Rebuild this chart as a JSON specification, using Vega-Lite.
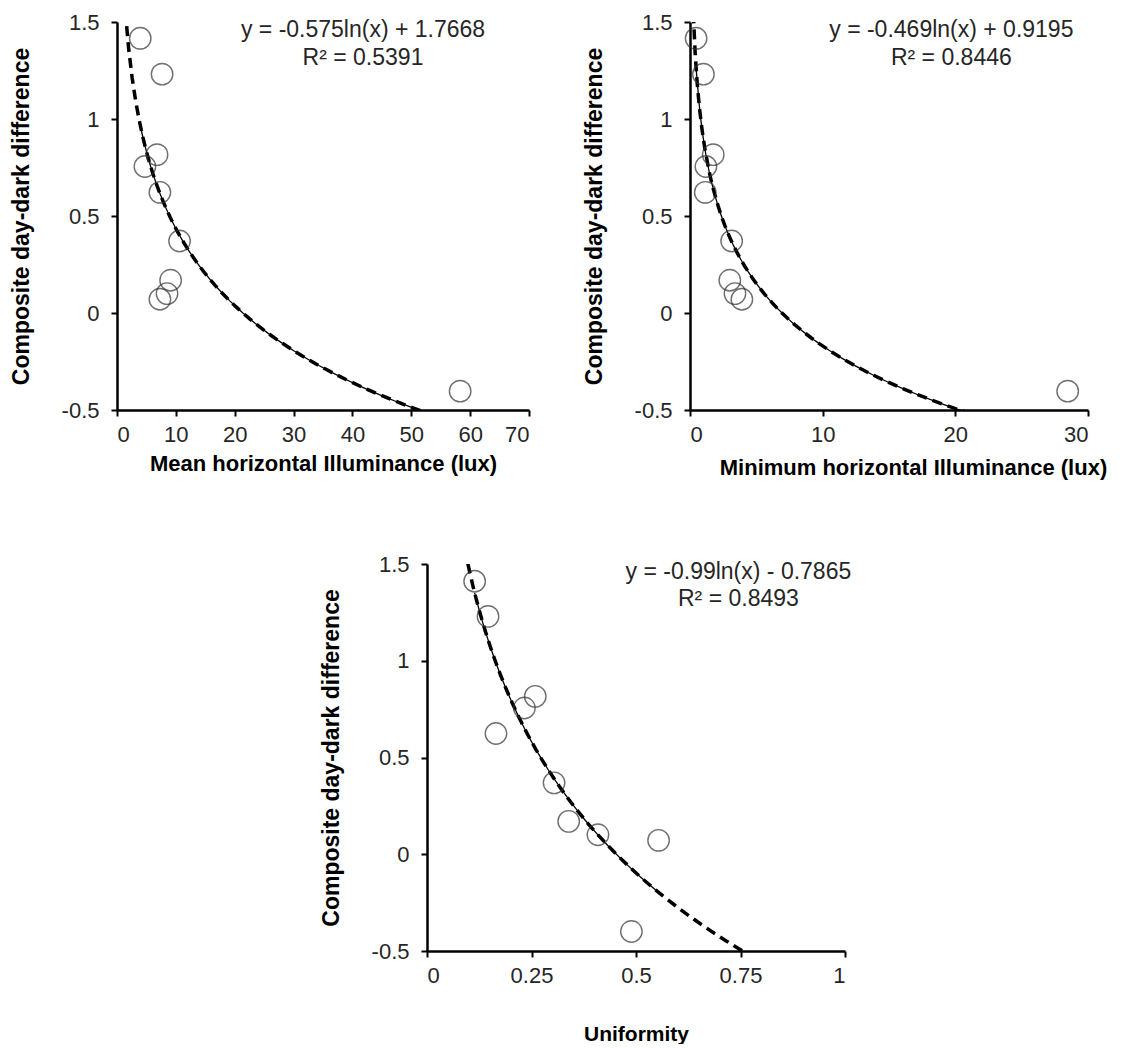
{
  "$schema": "https://vega.github.io/schema/vega-lite/v6.json",
  "background": "white",
  "padding": {"left": 10, "top": 11, "right": 0, "bottom": 0},
  "config": {
    "font": "Liberation Sans",
    "view": {"stroke": null},
    "axis": {
      "grid": false,
      "domainColor": "black",
      "domainWidth": 2.5,
      "tickColor": "black",
      "tickWidth": 2,
      "tickSize": 6,
      "labelFont": "Liberation Sans",
      "labelFontSize": 22,
      "labelColor": "#262626",
      "titleFont": "Liberation Sans",
      "titleFontSize": 22,
      "titleFontWeight": "bold",
      "titleColor": "black"
    },
    "axisY": {"titlePadding": 28, "labelPadding": 12, "titleFontSize": 23},
    "axisX": {"titlePadding": 8, "labelPadding": 8},
    "concat": {"spacing": 53}
  },
  "datasets": {
    "p1": [
      {"x": 3.95, "y": 1.416}, {"x": 7.66, "y": 1.231}, {"x": 6.8, "y": 0.816},
      {"x": 4.74, "y": 0.755}, {"x": 7.29, "y": 0.622}, {"x": 10.63, "y": 0.371},
      {"x": 9.11, "y": 0.169}, {"x": 7.29, "y": 0.071}, {"x": 8.5, "y": 0.1},
      {"x": 58.3, "y": -0.403}
    ],
    "p2": [
      {"x": 0.46, "y": 1.416}, {"x": 1.01, "y": 1.231}, {"x": 1.75, "y": 0.816},
      {"x": 1.2, "y": 0.755}, {"x": 1.15, "y": 0.622}, {"x": 3.14, "y": 0.371},
      {"x": 3.0, "y": 0.169}, {"x": 3.39, "y": 0.1}, {"x": 3.91, "y": 0.071},
      {"x": 28.47, "y": -0.403}
    ],
    "p3": [
      {"x": 0.114, "y": 1.411}, {"x": 0.146, "y": 1.229}, {"x": 0.259, "y": 0.816},
      {"x": 0.233, "y": 0.756}, {"x": 0.165, "y": 0.624}, {"x": 0.304, "y": 0.369},
      {"x": 0.339, "y": 0.17}, {"x": 0.409, "y": 0.101}, {"x": 0.554, "y": 0.072},
      {"x": 0.489, "y": -0.399}
    ],
    "eq": [
      {"panel": 1, "x": 41.8, "y": 1.459, "label": "y = -0.575ln(x) + 1.7668"},
      {"panel": 1, "x": 41.8, "y": 1.317, "label": "R² = 0.5391"},
      {"panel": 2, "x": 19.7, "y": 1.459, "label": "y = -0.469ln(x) + 0.9195"},
      {"panel": 2, "x": 19.7, "y": 1.317, "label": "R² = 0.8446"},
      {"panel": 3, "x": 0.745, "y": 1.459, "label": "y = -0.99ln(x) - 0.7865"},
      {"panel": 3, "x": 0.745, "y": 1.317, "label": "R² = 0.8493"}
    ]
  },
  "vconcat": [
    {
      "hconcat": [
        {
          "width": 412, "height": 388,
          "data": {"name": "p1"},
          "encoding": {
            "x": {"field": "x", "type": "quantitative", "scale": {"domain": [0, 70], "nice": false, "zero": false},
                  "axis": {"values": [0, 10, 20, 30, 40, 50, 60, 70], "title": "Mean horizontal Illuminance (lux)",
                           "labelExpr": "datum.value < 0 ? '-' + format(-datum.value, '') : format(datum.value, '')"}},
            "y": {"field": "y", "type": "quantitative", "scale": {"domain": [-0.5, 1.5], "nice": false, "zero": false},
                  "axis": {"values": [-0.5, 0, 0.5, 1, 1.5], "title": "Composite day-dark difference",
                           "labelExpr": "datum.value < 0 ? '-' + format(-datum.value, '') : format(datum.value, '')"}}
          },
          "layer": [
            {"transform": [{"regression": "y", "on": "x", "method": "log", "extent": [1.4, 60]}],
             "mark": {"type": "line", "color": "black", "strokeWidth": 3.5, "strokeDash": [10, 6], "clip": true}},
            {"transform": [{"regression": "y", "on": "x", "method": "log"}],
             "mark": {"type": "line", "color": "black", "strokeWidth": 1.3, "clip": true}},
            {"mark": {"type": "point", "shape": "circle", "filled": false, "stroke": "#333333", "strokeWidth": 1.4, "size": 460}},
            {"data": {"name": "eq"}, "transform": [{"filter": "datum.panel == 1"}],
             "mark": {"type": "text", "align": "center", "baseline": "middle", "fontSize": 23, "color": "#262626"},
             "encoding": {"text": {"field": "label"}}}
          ]
        },
        {
          "width": 398, "height": 388,
          "data": {"name": "p2"},
          "encoding": {
            "x": {"field": "x", "type": "quantitative", "scale": {"domain": [0, 30], "nice": false, "zero": false},
                  "axis": {"values": [0, 10, 20, 30], "title": "Minimum horizontal Illuminance (lux)", "titlePadding": 12, "titleX": 223,
                           "labelExpr": "datum.value < 0 ? '-' + format(-datum.value, '') : format(datum.value, '')"}},
            "y": {"field": "y", "type": "quantitative", "scale": {"domain": [-0.5, 1.5], "nice": false, "zero": false},
                  "axis": {"values": [-0.5, 0, 0.5, 1, 1.5], "title": "Composite day-dark difference",
                           "labelExpr": "datum.value < 0 ? '-' + format(-datum.value, '') : format(datum.value, '')"}}
          },
          "layer": [
            {"transform": [{"regression": "y", "on": "x", "method": "log", "extent": [0.25, 30]}],
             "mark": {"type": "line", "color": "black", "strokeWidth": 3.5, "strokeDash": [10, 6], "clip": true}},
            {"transform": [{"regression": "y", "on": "x", "method": "log"}],
             "mark": {"type": "line", "color": "black", "strokeWidth": 1.3, "clip": true}},
            {"mark": {"type": "point", "shape": "circle", "filled": false, "stroke": "#333333", "strokeWidth": 1.4, "size": 460}},
            {"data": {"name": "eq"}, "transform": [{"filter": "datum.panel == 2"}],
             "mark": {"type": "text", "align": "center", "baseline": "middle", "fontSize": 23, "color": "#262626"},
             "encoding": {"text": {"field": "label"}}}
          ]
        }
      ]
    },
    {
      "hconcat": [
        {
          "width": 203, "height": 5,
          "data": {"values": [{"a": 1}]},
          "mark": {"type": "point", "opacity": 0}
        },
        {
          "width": 418, "height": 387,
          "data": {"name": "p3"},
          "encoding": {
            "x": {"field": "x", "type": "quantitative", "scale": {"domain": [0, 1], "nice": false, "zero": false},
                  "axis": {"values": [0, 0.25, 0.5, 0.75, 1], "title": "Uniformity", "titlePadding": 37, "titleFontSize": 21,
                           "labelExpr": "datum.value < 0 ? '-' + format(-datum.value, '') : format(datum.value, '')"}},
            "y": {"field": "y", "type": "quantitative", "scale": {"domain": [-0.5, 1.5], "nice": false, "zero": false},
                  "axis": {"values": [-0.5, 0, 0.5, 1, 1.5], "title": "Composite day-dark difference",
                           "labelExpr": "datum.value < 0 ? '-' + format(-datum.value, '') : format(datum.value, '')"}}
          },
          "layer": [
            {"transform": [{"regression": "y", "on": "x", "method": "log", "extent": [0.09, 0.8]}],
             "mark": {"type": "line", "color": "black", "strokeWidth": 3.5, "strokeDash": [10, 6], "clip": true}},
            {"transform": [{"regression": "y", "on": "x", "method": "log"}],
             "mark": {"type": "line", "color": "black", "strokeWidth": 1.3, "clip": true}},
            {"mark": {"type": "point", "shape": "circle", "filled": false, "stroke": "#333333", "strokeWidth": 1.4, "size": 460}},
            {"data": {"name": "eq"}, "transform": [{"filter": "datum.panel == 3"}],
             "mark": {"type": "text", "align": "center", "baseline": "middle", "fontSize": 23, "color": "#262626"},
             "encoding": {"text": {"field": "label"}}}
          ]
        }
      ],
      "spacing": 0
    }
  ],
  "spacing": 75
}
